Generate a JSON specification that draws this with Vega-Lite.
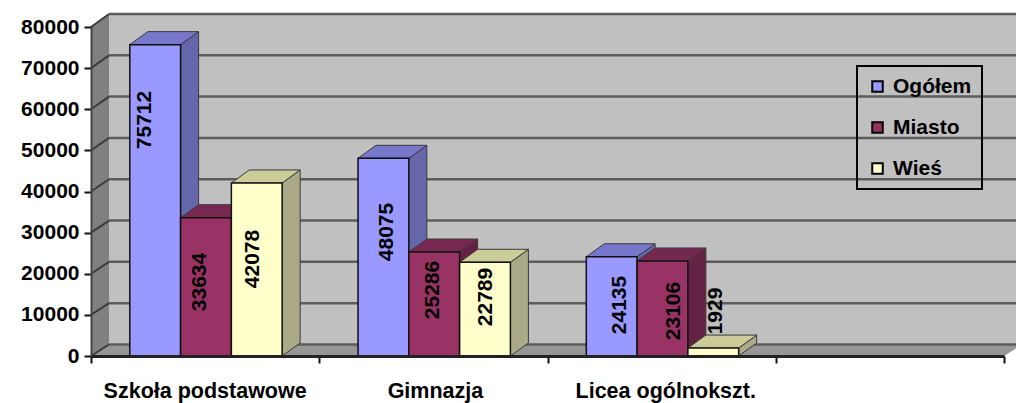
{
"$schema":"https://vega.github.io/schema/vega-lite/v6.json",
"width":913,"height":329,
"autosize":{"type":"none"},
"padding":{"left":91,"top":27,"right":12,"bottom":47},
"background":"white",
"config":{"view":{"stroke":null},"font":"Liberation Sans","axis":{"title":null,"grid":false},"legend":{"strokeColor":"black","strokeWidth":2}},
"datasets":{
"bars":[
{"szkola":"Szkoła podstawowe","seria":"Ogółem","wartosc":75712},
{"szkola":"Szkoła podstawowe","seria":"Miasto","wartosc":33634},
{"szkola":"Szkoła podstawowe","seria":"Wieś","wartosc":42078},
{"szkola":"Gimnazja","seria":"Ogółem","wartosc":48075},
{"szkola":"Gimnazja","seria":"Miasto","wartosc":25286},
{"szkola":"Gimnazja","seria":"Wieś","wartosc":22789},
{"szkola":"Licea ogólnokszt.","seria":"Ogółem","wartosc":24135},
{"szkola":"Licea ogólnokszt.","seria":"Miasto","wartosc":23106},
{"szkola":"Licea ogólnokszt.","seria":"Wieś","wartosc":1929}
],
"siatka":[{"v":0},{"v":10000},{"v":20000},{"v":30000},{"v":40000},{"v":50000},{"v":60000},{"v":70000},{"v":80000}]
},
"data":{"name":"siatka"},
"layer":[
{"mark":{"type":"rect","fill":"#C0C0C0"},
 "encoding":{"x":{"datum":0.0789,"type":"quantitative","scale":{"domain":[0,4]},"axis":{"values":[0,1,2,3,4],"labels":false,"tickSize":7,"tickWidth":2,"tickColor":"#111","domainColor":"#222","domainWidth":3,"zindex":1}},"x2":{"datum":4.08},"y":{"datum":2800,"type":"quantitative","scale":{"domain":[0,80000]},"axis":{"values":[0,10000,20000,30000,40000,50000,60000,70000,80000],"format":"d","tickSize":7,"tickWidth":2,"tickColor":"#111","domainColor":"#444","domainWidth":2,"labelFont":"Liberation Sans","labelFontWeight":"bold","labelFontSize":21,"labelColor":"black","labelPadding":5,"zindex":1}},"y2":{"datum":83160}}},
{"data":{"values":[{"k":0,"xa":0,"ya":0,"yb":80000},{"k":1,"xa":0.0789,"ya":2800,"yb":83160}]},
 "mark":{"type":"area","fill":"#808080"},
 "encoding":{"x":{"field":"xa","type":"quantitative","axis":null},"y":{"field":"ya","type":"quantitative","axis":null},"y2":{"field":"yb"}}},
{"data":{"values":[{"k":0,"xa":0,"xb":4,"yy":0},{"k":1,"xa":0.0789,"xb":4.08,"yy":2800}]},
 "mark":{"type":"area","orient":"horizontal","fill":"#969696"},
 "encoding":{"y":{"field":"yy","type":"quantitative","axis":null},"x":{"field":"xa","type":"quantitative","axis":null},"x2":{"field":"xb"}}},
{"transform":[{"calculate":"datum.v*1.0045+2800","as":"tylY"}],
 "mark":{"type":"rule","stroke":"#5c5c5c","strokeWidth":2.5},
 "encoding":{"x":{"datum":0.0789,"type":"quantitative","axis":null},"x2":{"datum":4.08},"y":{"field":"tylY","type":"quantitative","axis":null},"y2":{"field":"tylY"}}},
{"transform":[{"calculate":"datum.v*1.0045+2800","as":"tylY"}],
 "mark":{"type":"rule","stroke":"#3c3c3c","strokeWidth":2},
 "encoding":{"x":{"datum":0,"type":"quantitative","axis":null},"x2":{"datum":0.0789},"y":{"field":"v","type":"quantitative","axis":null},"y2":{"field":"tylY"}}},
{"data":{"name":"bars"},
 "transform":[
  {"calculate":"indexof(['Szkoła podstawowe','Gimnazja','Licea ogólnokszt.'],datum.szkola)","as":"i"},
  {"calculate":"indexof(['Ogółem','Miasto','Wieś'],datum.seria)","as":"s"},
  {"calculate":"datum.i+0.17+datum.s*0.2225","as":"xl"},
  {"calculate":"datum.xl+0.2225","as":"xr"},
  {"calculate":"datum.szkola+'|'+datum.seria","as":"klucz"}
 ],
 "layer":[
  {"transform":[{"calculate":"[0,1]","as":"t"},{"flatten":["t"]},
    {"calculate":"datum.xr+datum.t*0.0789","as":"xs"},
    {"calculate":"datum.wartosc+datum.t*3160","as":"yg"},
    {"calculate":"datum.t*3160","as":"yd"}],
   "mark":{"type":"area","stroke":"#3a3a3a","strokeWidth":1},
   "encoding":{"x":{"field":"xs","type":"quantitative","axis":null},"y":{"field":"yg","type":"quantitative","axis":null},"y2":{"field":"yd"},"detail":{"field":"klucz"},
    "color":{"field":"seria","type":"nominal","legend":null,"scale":{"domain":["Ogółem","Miasto","Wieś"],"range":["#6666AA","#662244","#AAAA88"]}}}},
  {"transform":[{"calculate":"[0,1]","as":"t"},{"flatten":["t"]},
    {"calculate":"datum.xl+datum.t*0.0789","as":"xa"},
    {"calculate":"datum.xr+datum.t*0.0789","as":"xb"},
    {"calculate":"datum.wartosc+datum.t*3160","as":"yy"}],
   "mark":{"type":"area","orient":"horizontal","stroke":"#3a3a3a","strokeWidth":1},
   "encoding":{"y":{"field":"yy","type":"quantitative","axis":null},"x":{"field":"xa","type":"quantitative","axis":null},"x2":{"field":"xb"},"detail":{"field":"klucz"},
    "color":{"field":"seria","type":"nominal","legend":null,"scale":{"domain":["Ogółem","Miasto","Wieś"],"range":["#7777CC","#772850","#CCCC99"]}}}},
  {"mark":{"type":"rect","stroke":"#111","strokeWidth":1.5},
   "encoding":{"x":{"field":"xl","type":"quantitative","axis":null},"x2":{"field":"xr"},"y":{"field":"wartosc","type":"quantitative","axis":null},"y2":{"datum":0},
    "color":{"field":"seria","type":"nominal","scale":{"domain":["Ogółem","Miasto","Wieś"],"range":["#9999FF","#993366","#FFFFCC"]},
     "legend":{"title":null,"orient":"none","legendX":766,"legendY":39,"padding":10,"rowPadding":19,"symbolType":"square","symbolSize":110,"symbolStrokeColor":"black","symbolStrokeWidth":2,"labelFont":"Liberation Sans","labelFontWeight":"bold","labelFontSize":21,"labelColor":"black","labelOffset":5,"labelLimit":200}}}},
  {"transform":[
    {"calculate":"{'75712':0.237,'33634':0.478,'42078':0.711,'48075':1.298,'25286':1.5,'22789':1.732,'24135':2.316,'23106':2.553,'1929':2.737}[''+datum.wartosc]","as":"etX"},
    {"calculate":"{'75712':57380,'33634':17990,'42078':23580,'48075':30150,'25286':16050,'22789':14345,'24135':12400,'23106':10940,'1929':10940}[''+datum.wartosc]","as":"etY"}],
   "mark":{"type":"text","angle":270,"font":"Liberation Sans","fontWeight":"bold","fontSize":21,"color":"black","align":"center","baseline":"middle"},
   "encoding":{"x":{"field":"etX","type":"quantitative","axis":null},"y":{"field":"etY","type":"quantitative","axis":null},"text":{"field":"wartosc","type":"nominal"}}},
  {"transform":[{"filter":"datum.s==0"},{"calculate":"datum.i+0.5+datum.i*0.009","as":"etX"}],
   "mark":{"type":"text","font":"Liberation Sans","fontWeight":"bold","fontSize":21.5,"color":"black","align":"center","baseline":"middle","dy":36},
   "encoding":{"x":{"field":"etX","type":"quantitative","axis":null},"y":{"datum":0,"type":"quantitative","axis":null},"text":{"field":"szkola","type":"nominal"}}}
 ],
 "resolve":{"scale":{"color":"independent"},"axis":{"x":"independent","y":"independent"}}}
],
"resolve":{"scale":{"color":"independent"},"axis":{"x":"independent","y":"independent"}}
}
